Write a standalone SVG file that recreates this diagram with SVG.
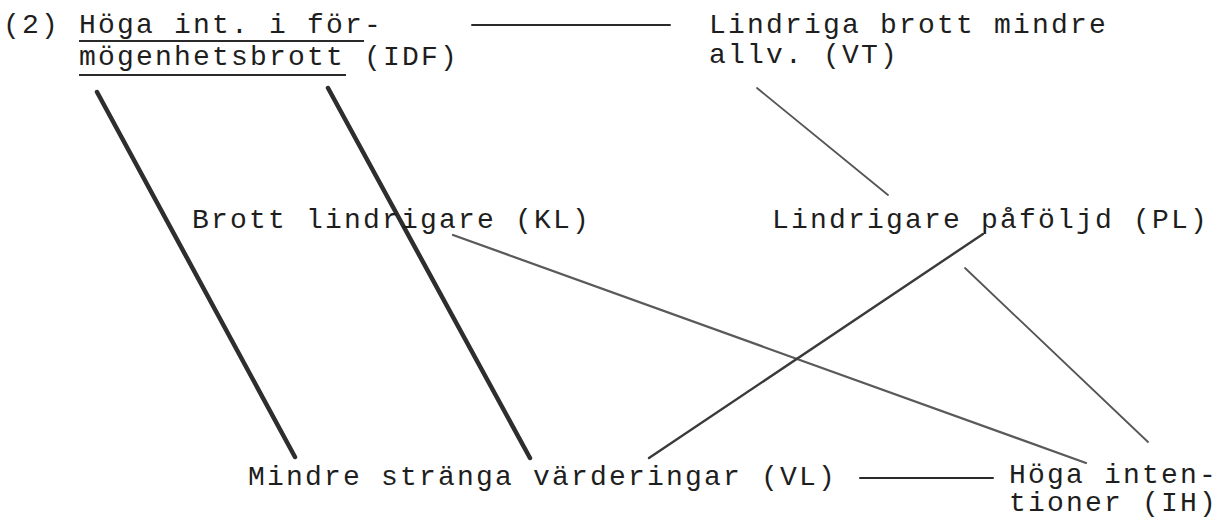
<svg xmlns="http://www.w3.org/2000/svg" width="1224" height="519" viewBox="0 0 1224 519">
<style>
text{font-family:"Liberation Mono","Courier New",monospace;font-size:28px;letter-spacing:2.2px;fill:#1e1e1e}
.ul{stroke:#2a2a2a;stroke-width:2}
.c{fill:none;stroke-linecap:round}
.thick{stroke:#2e2e2e;stroke-width:4.5}
.mid{stroke:#3a3a3a;stroke-width:2.4}
.lite{stroke:#5a5a5a;stroke-width:2.2}
.thin{stroke:#555;stroke-width:1.8}
.h{stroke:#2a2a2a;stroke-width:2}
</style>
<rect width="1224" height="519" fill="#fff"/>
<g id="connectors">
<line class="c h" x1="472" y1="25" x2="670" y2="25"/>
<line class="c h" x1="860" y1="478" x2="993" y2="478"/>
<line class="c thick" x1="97" y1="92" x2="295" y2="457"/>
<line class="c thick" x1="328" y1="88" x2="530" y2="458"/>
<line class="c thin" x1="757" y1="88" x2="888" y2="195"/>
<line class="c lite" x1="453" y1="235" x2="1086" y2="463"/>
<line class="c mid" x1="983" y1="234" x2="649" y2="458"/>
<line class="c thin" x1="965" y1="268" x2="1148" y2="442"/>
</g>
<g id="node-IDF">
<text x="3" y="33">(2)</text>
<text x="79" y="33">Höga int. i för-</text>
<text x="79" y="65">mögenhetsbrott (IDF)</text>
<line class="ul" x1="79" y1="41" x2="364" y2="41"/>
<line class="ul" x1="79" y1="75" x2="346" y2="75"/>
</g>
<g id="node-VT">
<text x="709" y="33">Lindriga brott mindre</text>
<text x="709" y="63">allv. (VT)</text>
</g>
<g id="node-KL">
<text x="192" y="228">Brott lindrigare (KL)</text>
</g>
<g id="node-PL">
<text x="772" y="228">Lindrigare påföljd (PL)</text>
</g>
<g id="node-VL">
<text x="248" y="485">Mindre stränga värderingar (VL)</text>
</g>
<g id="node-IH">
<text x="1009" y="483">Höga inten-</text>
<text x="1009" y="511">tioner (IH)</text>
</g>
</svg>
